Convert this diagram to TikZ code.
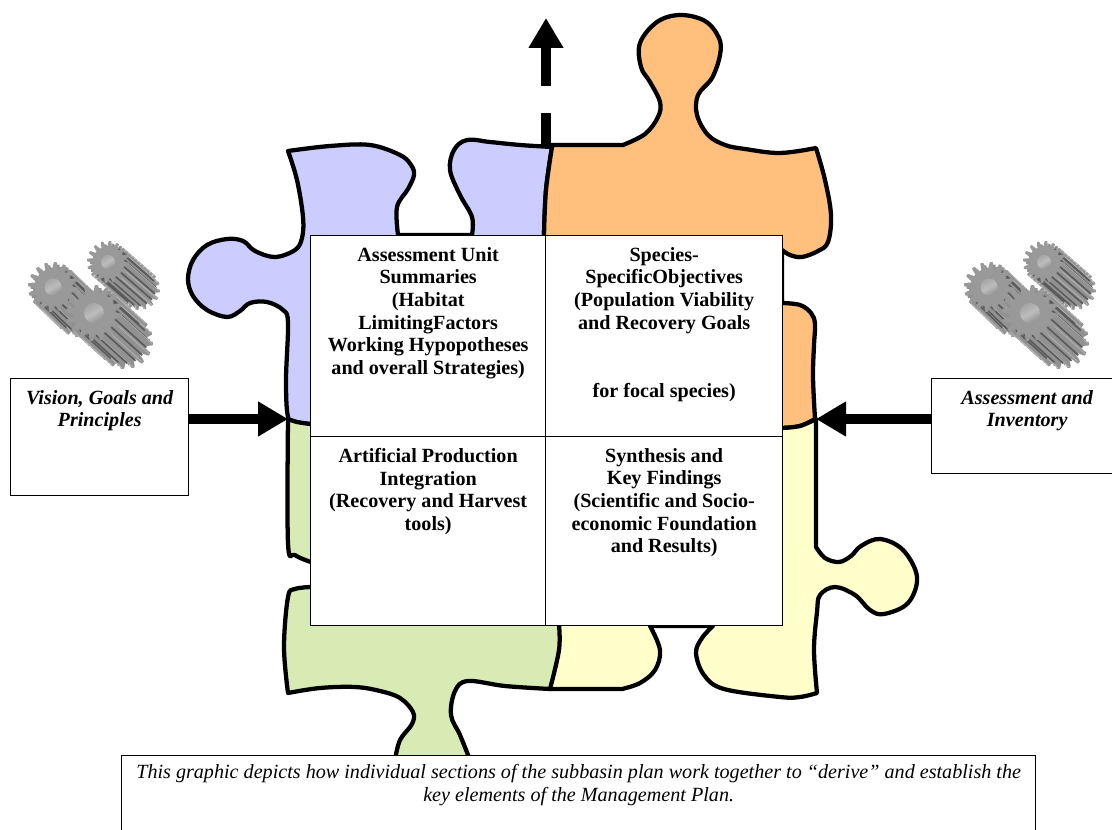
\documentclass[tikz,border=0pt]{standalone}
\usepackage{fontspec}
\setmainfont{Liberation Serif}
\usetikzlibrary{arrows.meta,calc}
\definecolor{pblue}{HTML}{CCCCFF}
\definecolor{porange}{HTML}{FFBF7D}
\definecolor{pyellow}{HTML}{FFFFCC}
\definecolor{pgreen}{HTML}{D9EBB5}
\definecolor{gface}{HTML}{999999}
\definecolor{gbody}{HTML}{929292}
\definecolor{gdark}{HTML}{5A5A5A}
\definecolor{glight}{HTML}{B4B4B4}
\newcommand{\gearshape}[1]{plot[variable=\t,domain=0:360,samples=161] (\t:{#1*(0.87+0.13*max(-1,min(1,2*sin(16*\t))))}) -- cycle}
% cx cy R offx offy holeR
\newcommand{\onegear}[6]{%
  \begin{scope}[shift={(#1,#2)}]
    \foreach \k in {1,...,10}{
      \fill[gbody,shift={({#4*(11-\k)/10},{#5*(11-\k)/10})}] \gearshape{#3};
    }
    \pgfmathsetmacro{\dirang}{atan2(#5,#4)}
    \foreach \i in {0,...,15}{
      \pgfmathsetmacro{\ang}{\i*22.5}
      \pgfmathsetmacro{\vis}{cos(\ang-\dirang)}
      \ifdim\vis pt>-0.1pt
        \draw[gdark,line width=1.2pt] ({\ang-5.6}:{#3*0.8}) -- ++(#4,#5);
        \draw[glight,line width=.6pt] ({\ang+5.6}:{#3*0.98}) -- ++(#4,#5);
      \fi
    }
    \fill[gface] \gearshape{#3};
    \shade[left color=gray!70,right color=gray!85,middle color=gray!52,shading angle=30] (0,0) circle[radius=#6];
  \end{scope}}
\tikzset{
  piece/.style={draw=black,line width=3.2pt,line join=round},
  cell/.style={draw=black,fill=white,line width=1pt,inner sep=0pt,anchor=north west,font=\bfseries\fontsize{15.1}{17}\selectfont},
  sidebox/.style={draw=black,fill=white,line width=1pt,inner sep=0pt,anchor=north west,font=\bfseries\itshape\fontsize{15.1}{17}\selectfont},
  capbox/.style={draw=black,fill=white,line width=1pt,inner sep=0pt,anchor=north west,font=\itshape\fontsize{15.1}{17}\selectfont},
  bigarrow/.style={line width=7.5pt,-{Triangle[length=22.5pt,width=24.75pt]}},
}
\newcommand{\boxtext}[4][8.7pt]{\parbox[c][#3][t]{#2}{\vspace*{#1}\centering #4}}
\begin{document}
\begin{tikzpicture}[x=0.75pt,y=-0.75pt]
\clip (0,0) rectangle (1112,830);
\useasboundingbox (0,0) rectangle (1112,830);
\fill[white] (0,0) rectangle (1112,830);
% gears
\foreach \dx in {0,936}{
  \begin{scope}[xshift=\dx*0.75pt]
    \onegear{108}{262}{21}{31}{27}{7}
    \onegear{53}{287}{25}{26}{25}{8.5}
    \onegear{94}{313}{28}{31}{28}{10}
  \end{scope}
}
% blue piece
\path[piece,fill=pblue]
  plot[smooth,tension=.6] coordinates {(288,151) (330,146) (370,145) (400,155) (411,165) (414,175) (408,189) (397,207) (398,235)}
  -- plot[smooth,tension=.6] coordinates {(472,235) (472,217) (460,195) (450,170) (454,150) (467,140) (490,142) (520,145) (552,147)}
  -- plot[smooth,tension=.6] coordinates {(552,147) (546,190) (544,235)}
  -- (544,436) -- (310,424)
  -- plot[smooth,tension=.6] coordinates {(310,424) (296,422) (288,417) (286,380) (288,323) (283,310) (267,302) (250,303) (240,311) (227,317) (207,310) (193,296) (188,279) (193,260) (207,245) (227,239) (243,241) (255,251) (275,257) (295,250) (302,238) (303,217) (297,180) (288,151)}
  -- cycle;
% orange piece
\path[piece,fill=porange]
  (550,145) -- (623,145)
  -- plot[smooth,tension=.6] coordinates {(623,145) (645,134) (658,117) (660,102) (650,82) (641,67) (640,43) (657,22) (680,15) (705,21) (719,38) (720,55) (712,78) (698,95) (697,115) (708,135) (725,145) (745,149) (780,153) (816,148)}
  -- plot[smooth,tension=.6] coordinates {(816,148) (825,180) (831,215) (828,242) (818,251) (802,257) (790,255) (782,250)}
  -- (782,303)
  -- plot[smooth,tension=.6] coordinates {(782,303) (800,305) (811,313) (815,324) (814,345) (813,377) (815,419)}
  -- plot[smooth,tension=.6] coordinates {(815,419) (800,426) (782,428)}
  -- (544,436)
  -- plot[smooth,tension=.6] coordinates {(544,235) (546,190) (552,147)}
  -- cycle;
% yellow piece
\path[piece,fill=pyellow]
  (782,428) -- plot[smooth,tension=.6] coordinates {(782,428) (800,426) (816,419)}
  -- (816,547)
  -- plot[smooth,tension=.6] coordinates {(816,547) (825,558) (839,562) (851,556) (861,546) (880,539) (903,550) (917,577) (908,603) (884,614) (870,610) (855,595) (835,587) (820,595) (817,612) (814,650) (817,693)}
  -- plot[smooth,tension=.6] coordinates {(817,693) (800,697) (780,697) (724,689) (704,675) (696,653) (702,638) (713,626)}
  -- (650,626)
  -- plot[smooth,tension=.6] coordinates {(650,626) (660,650) (655,670) (640,683) (622,689)}
  -- (550,689) -- (545,500) -- cycle;
% green piece
\path[piece,fill=pgreen]
  (288,419) -- plot[smooth,tension=.6] coordinates {(288,419) (297,422) (310,424)}
  -- (545,436) -- (559,625)
  -- plot[smooth,tension=.6] coordinates {(559,625) (559,650) (550,689)}
  -- plot[smooth,tension=.6] coordinates {(550,689) (505,686) (468,681) (455,691) (451,715) (460,735) (470,760)}
  -- (395,760)
  -- plot[smooth,tension=.6] coordinates {(395,760) (400,740) (412,724) (413,712) (400,698) (380,691) (355,687) (320,688) (288,693)}
  -- plot[smooth,tension=.6] coordinates {(288,693) (284,647) (288,597) (295,589) (311,587)}
  -- (340,587) -- (340,562)
  -- plot[smooth,tension=.6] coordinates {(311,562) (295,555) (288,543) (288,419)}
  -- cycle;
% centre cells
\node[cell] (c1) at (310,235) {\boxtext{176.25pt}{150.75pt}{Assessment Unit\\Summaries\\(Habitat\\LimitingFactors\\Working Hypopotheses\\and overall Strategies)}};
\node[cell] (c2) at (545,235) {\boxtext{177.75pt}{150.75pt}{Species-\\SpecificObjectives\\(Population Viability\\and Recovery Goals\\[34pt]for focal species)}};
\node[cell] (c3) at (310,436) {\boxtext{176.25pt}{141.75pt}{Artificial Production\\Integration\\(Recovery and Harvest\\tools)}};
\node[cell] (c4) at (545,436) {\boxtext{177.75pt}{141.75pt}{Synthesis and\\Key Findings\\(Scientific and Socio-\\economic Foundation\\and Results)}};
% side boxes
\node[sidebox] (vision) at (10,378) {\boxtext{133.5pt}{87.75pt}{Vision, Goals and\\Principles}};
\node[sidebox] (assess) at (931,378) {\boxtext{143.25pt}{71.25pt}{Assessment and\\Inventory}};
\node[capbox] (caption) at (121,755) {\boxtext[6.7pt]{685.5pt}{66pt}{This graphic depicts how individual sections of the subbasin plan work together to “derive” and establish the\\key elements of the Management Plan.}};
% arrows
\coordinate (ltip) at (288,419);
\coordinate (rtip) at (816,419);
\coordinate (upfoot) at (546,145);
\coordinate (uptip) at (546,18);
\draw[bigarrow] (vision.east |- ltip) -- (ltip);
\draw[bigarrow] (assess.west |- rtip) -- (rtip);
\draw[bigarrow,dash pattern=on 24pt off 20.25pt on 60pt] (upfoot) -- (uptip);
\end{tikzpicture}
\end{document}
